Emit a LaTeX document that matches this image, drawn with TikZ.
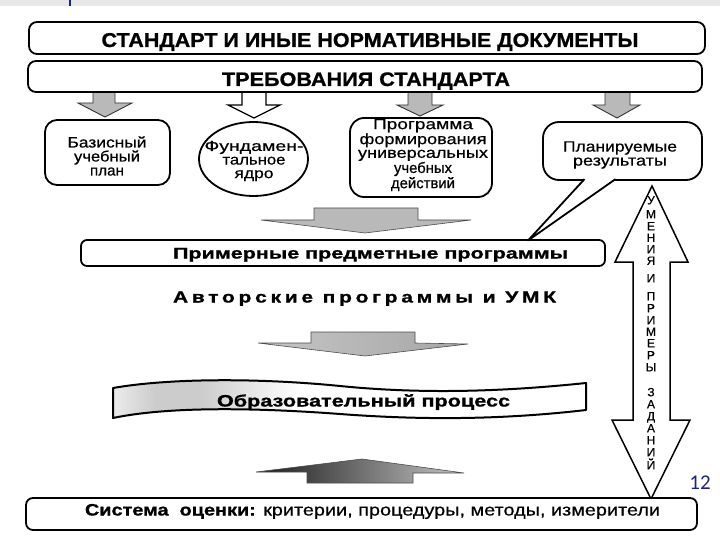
\documentclass[tikz,border=0pt]{standalone}
\usepackage{fontspec}
\setmainfont{Liberation Sans}
\newfontfamily\medsans[FakeBold=0.5]{Liberation Sans}
\newfontfamily\heavysans[FakeBold=0.9]{Liberation Sans Bold}
\newfontfamily\pagenumfont{Carlito}
\usepackage{graphicx}
\usetikzlibrary{shapes.geometric,calc}
\definecolor{navy}{RGB}{28,36,130}
\definecolor{stripgray}{RGB}{232,232,232}
\newcommand{\fw}[2]{\resizebox{#1}{\height}{#2}}
\newcommand{\ribbonpath}{(113,388) .. controls (170,378) and (260,378) .. (340,386) .. controls (420,394) and (500,392) .. (586,383) -- (586,410) .. controls (500,420) and (420,420) .. (340,414) .. controls (260,408) and (170,406) .. (113,418) -- cycle}
\tikzset{
  frame/.style={draw=black, line width=1.8pt, fill=white, rounded corners=#1, inner sep=0pt, outer sep=0pt, rectangle},
  frame/.default=8pt,
  lbl/.style={inner sep=0pt, anchor=base},
  mlbl/.style={inner sep=0pt, align=center},
  vletter/.style={inner sep=0pt, anchor=base, font=\medsans\fontsize{12}{12}\selectfont},
  smallarrow/.style={draw=black!80, line width=0.9pt, fill=gray!55},
  whitearrow/.style={draw=black, line width=1.2pt, fill=white},
  bigarrow/.style={draw=black!70, line width=0.6pt},
}
\begin{document}
\begin{tikzpicture}[x=1pt,y=-1pt]
\useasboundingbox (0,0) rectangle (720,540);
\fill[white] (0,0) rectangle (720,540);
\fill[stripgray] (0,0) rectangle (720,6);
\draw[navy, line width=2pt] (70,0) -- (70,6);

% small arrows below the standard requirements
\path[smallarrow] (93,88) -- (115,88) -- (115,103) -- (132,103) -- (105,117) -- (78,103) -- (93,103) -- cycle;
\path[whitearrow] (242,88) -- (266,88) -- (266,105) -- (280,105) -- (254,118) -- (228,105) -- (242,105) -- cycle;
\path[smallarrow] (408,88) -- (432,88) -- (432,105) -- (443,105) -- (420,116) -- (397,105) -- (408,105) -- cycle;
\path[smallarrow] (605,88) -- (630,88) -- (630,105) -- (640,105) -- (617,118) -- (593,105) -- (605,105) -- cycle;

% top boxes
\node[frame=8pt, minimum width=676pt, minimum height=32pt] (std) at (367,38) {};
\node[frame=8pt, minimum width=674pt, minimum height=31pt] (req) at (365,76.5) {};
\node[lbl, font=\heavysans\fontsize{20}{20}\selectfont] (tstd) at (370,47) {\fw{537pt}{СТАНДАРТ И ИНЫЕ НОРМАТИВНЫЕ ДОКУМЕНТЫ}};
\node[lbl, font=\heavysans\fontsize{19.5}{19.5}\selectfont] (treq) at (366,86) {\fw{288pt}{ТРЕБОВАНИЯ СТАНДАРТА}};

% second row
\node[frame=12pt, minimum width=125pt, minimum height=65pt] (bas) at (107.5,152.5) {};
\node[draw=black, ellipse, line width=1.8pt, fill=white, minimum width=109pt, minimum height=74pt, inner sep=0pt, outer sep=0pt] (core) at (253.5,159) {};
\node[frame=14pt, minimum width=142pt, minimum height=79pt] (upr) at (421,157.5) {};
\node[frame=16pt, minimum width=159pt, minimum height=58pt] (plan) at (622.5,151) {};

\node[mlbl, font=\medsans\fontsize{15}{14}\selectfont] (tbas) at (107,156) {\fw{79pt}{Базисный}\\\fw{66pt}{учебный}\\\fw{34pt}{план}};
\node[mlbl, font=\medsans\fontsize{14.5}{13.6}\selectfont] (tcore) at (254,161) {\fw{99pt}{Фундамен-}\\\fw{63pt}{тальное}\\\fw{39pt}{ядро}};
\node[mlbl, font=\medsans\fontsize{15}{13.7}\selectfont] (tupr) at (423,155) {\fw{100pt}{Программа}\\\fw{127pt}{формирования}\\\fw{130pt}{универсальных}\\\fw{58pt}{учебных}\\\fw{64pt}{действий}};
\node[mlbl, font=\medsans\fontsize{15}{14}\selectfont] (tplan) at (620,155) {\fw{114pt}{Планируемые}\\\fw{94pt}{результаты}};

% big arrow to sample programmes
\path[bigarrow, fill=gray!55] (314,208) -- (418,208) -- (418,220) -- (471,220) -- (365,233) -- (261,220) -- (314,220) -- cycle;

% sample programmes box
\node[frame=6pt, minimum width=524pt, minimum height=26pt] (prim) at (343,253) {};
\node[lbl, font=\heavysans\fontsize{15.5}{15.5}\selectfont] (tprim) at (370.5,258.5) {\fw{395pt}{Примерные предметные программы}};

% speech bubble tail
\coordinate (tailtip) at (528,240.5);
\fill[white] ($(plan.south)+(-38,-1.6)$) -- (tailtip) -- ($(plan.south)+(-7,-1.6)$) -- cycle;
\draw[line width=1.8pt, line join=round] ($(plan.south)+(-38,-0.9)$) -- (tailtip) -- ($(plan.south)+(-7,-0.9)$);

% authors' programmes
\node[lbl, font=\heavysans\fontsize{16}{16}\selectfont\addfontfeature{LetterSpace=18}] (tauth) at (364.5,302.5) {\fw{383pt}{Авторские программы и УМК}};

% arrow to educational process
\path[bigarrow, left color=gray!45, right color=gray!70] (311,332) -- (415,332) -- (415,343) -- (468,344) -- (365,356) -- (258,343) -- (311,343) -- cycle;

% ribbon
\begin{scope}
  \clip \ribbonpath;
  \fill[white] (100,370) rectangle (600,425);
  \shade[left color=gray!15, right color=gray!40] (113,370) rectangle (155,425);
  \fill[gray!40] (155,370) rectangle (200,425);
  \shade[left color=gray!40, right color=white] (200,370) rectangle (300,425);
\end{scope}
\draw[line width=2pt, line join=round] \ribbonpath;
\node[lbl, font=\heavysans\fontsize{16.5}{16.5}\selectfont] (tproc) at (363.5,406.5) {\fw{293pt}{Образовательный процесс}};

% up arrow from evaluation
\path[bigarrow, left color=black!90, right color=gray!45] (362,459) -- (464,473) -- (413,473) -- (413,483) -- (307,483) -- (307,472) -- (256,472) -- cycle;

% double arrow
\draw[line width=1.5pt, fill=white, line join=miter] (652,186) -- (688,262) -- (670,262) -- (670,420) -- (690,420) -- (651,499) -- (612,420) -- (633,420) -- (633,262) -- (615,262) -- cycle;
\foreach \ch/\yy [count=\i] in {У/200,М/214,Е/226,Н/237.5,И/249,Я/260.5,И/278,П/296,Р/308,И/320,М/331.5,Е/343,Р/355,Ы/367,З/392,А/404,Д/416,А/428,Н/440,И/452,Й/465}
  \node[vletter] (v\i) at (651,\yy+4.3) {\ch};

% evaluation box
\node[frame=7pt, minimum width=671pt, minimum height=32pt] (eval) at (361.5,514) {};
\node[lbl, font=\medsans\fontsize{16.5}{16.5}\selectfont] (teval) at (372.5,515.5) {\fw{575pt}{{\heavysans Система\ \ оценки:} критерии, процедуры, методы, измерители}};

% page number
\node[lbl, font=\pagenumfont\fontsize{21}{21}\selectfont, text=navy] (pnum) at (700,489) {12};
\end{tikzpicture}
\end{document}
